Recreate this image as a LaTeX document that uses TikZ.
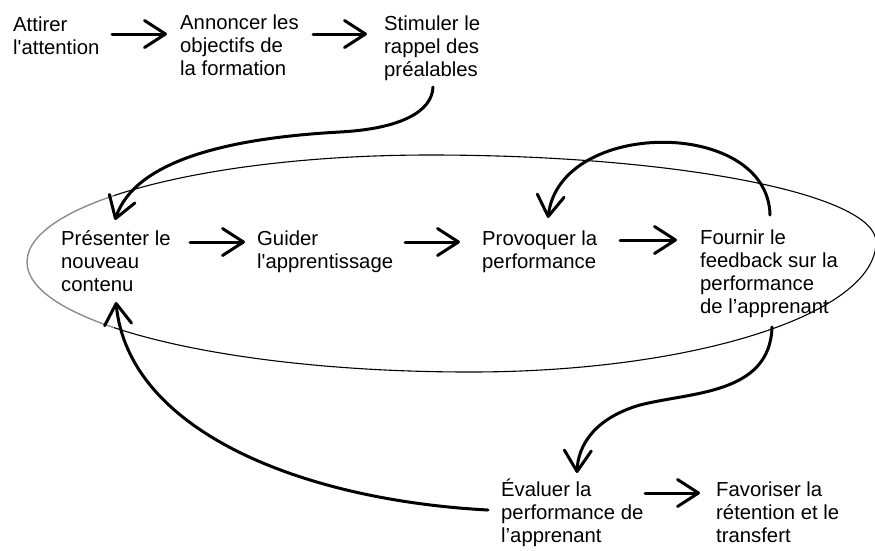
\documentclass[tikz,border=0pt]{standalone}
\usepackage{fontspec}
\setmainfont{Liberation Sans}[Ligatures=TeXOff]
\usetikzlibrary{arrows.meta,calc}

% multi-line label whose baseline is that of its first line
\newcommand{\stacklines}[1]{\begin{tabular}[t]{@{}l@{}}#1\end{tabular}}

\begin{document}
\begin{tikzpicture}[x=1pt,y=-1pt,
  lbl/.style={anchor=base west, inner sep=0pt, font=\fontsize{20.3}{23}\selectfont},
  flow/.style={line width=3pt, line cap=round, line join=round,
    -{Straight Barb[length=21pt,width=27pt,round]}},
  ring/.style={line width=1.1pt}]
\useasboundingbox (0,0) rectangle (875,550);

% the loop around the core steps: grey on its left end, black elsewhere
\begin{scope}
  \clip (0,0) rectangle (114,550);
  \draw[ring, black!45, line width=1.4pt] (27,262) .. controls (27,203) and (207,155) .. (430,155)
    .. controls (676,155) and (876,194) .. (876,242)
    .. controls (876,314) and (694,372) .. (470,372)
    .. controls (225,372) and (27,323) .. cycle;
\end{scope}
\begin{scope}
  \clip (114,0) rectangle (880,550);
  \draw[ring] (27,262) .. controls (27,203) and (207,155) .. (430,155)
    .. controls (676,155) and (876,194) .. (876,242)
    .. controls (876,314) and (694,372) .. (470,372)
    .. controls (225,372) and (27,323) .. cycle;
\end{scope}

% steps
\node[lbl] (att) at (13,31)  {\stacklines{Attirer\\l'attention}};
\node[lbl] (ann) at (180,29.5) {\stacklines{Annoncer les\\objectifs de\\la formation}};
\node[lbl] (sti) at (384,30) {\stacklines{Stimuler le\\rappel des\\préalables}};
\node[lbl] (pre) at (61,245) {\stacklines{Présenter le\\nouveau\\contenu}};
\node[lbl] (gui) at (257,245) {\stacklines{Guider\\l'apprentissage}};
\node[lbl] (pro) at (482,245) {\stacklines{Provoquer la\\performance}};
\node[lbl] (fou) at (700,244) {\stacklines{Fournir le\\feedback sur la\\performance\\de l’apprenant}};
\node[lbl] (eva) at (501,496) {\stacklines{Évaluer la\\performance de\\l’apprenant}};
\node[lbl] (fav) at (716,496) {\stacklines{Favoriser la\\rétention et le\\transfert}};

% straight links
\draw[flow] ([shift={(99,3)}]att.base west) -- ([shift={(-13,4.5)}]ann.base west);
\draw[flow] ([shift={(133,4.5)}]ann.base west) -- ([shift={(-17,4)}]sti.base west);
\draw[flow] ([shift={(129,-3)}]pre.base west) -- ([shift={(-12,-3)}]gui.base west);
\draw[flow] ([shift={(148,-3)}]gui.base west) -- ([shift={(-22,-3)}]pro.base west);
\draw[flow] ([shift={(138,-5)}]pro.base west) -- ([shift={(-23,-4)}]fou.base west);
\draw[flow] ([shift={(144,-3)}]eva.base west) -- ([shift={(-16,-3)}]fav.base west);

% curved links
\draw[flow] ([shift={(49,57)}]sti.base west)
  .. controls (432,112) and (400,128.7) .. (340,132)
  .. controls (230,138) and (135,160) .. ([shift={(54,-25)}]pre.base west);
\draw[flow] ([shift={(70,-29)}]fou.base west)
  .. controls (768,118) and (560,118) .. ([shift={(66,-27)}]pro.base west);
\draw[flow] ([shift={(72,83)}]fou.base west)
  .. controls (770,395) and (690,392) .. (640,405)
  .. controls (595,418) and (578,445) .. ([shift={(76,-23)}]eva.base west);
\draw[flow] ([shift={(-13,14)}]eva.base west)
  .. controls (300,500) and (128,430) .. ([shift={(55,57)}]pre.base west);
\end{tikzpicture}
\end{document}
